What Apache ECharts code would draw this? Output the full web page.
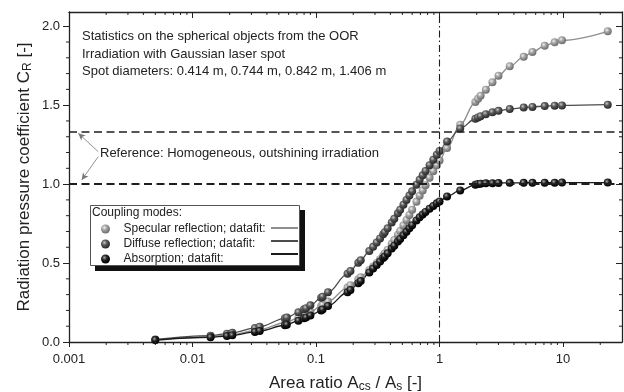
<!DOCTYPE html>
<html>
<head>
<meta charset="utf-8">
<script src="https://cdn.jsdelivr.net/npm/echarts@6/dist/echarts.min.js"></script>
<style>
html,body{margin:0;padding:0;background:#fff;}
#chart{width:624px;height:392px;}
</style>
</head>
<body>
<div id="chart"></div>
<script>
// ---- data ----
const areaRatio = [0.005, 0.014, 0.019, 0.021, 0.032, 0.035, 0.056, 0.058, 0.072, 0.08, 0.083, 0.09, 0.11, 0.113, 0.125, 0.18, 0.19, 0.22, 0.23, 0.27, 0.29, 0.31, 0.33, 0.35, 0.36, 0.38, 0.41, 0.43, 0.46, 0.48, 0.51, 0.54, 0.57, 0.6, 0.65, 0.69, 0.73, 0.77, 0.83, 0.89, 0.95, 1.0, 1.15, 1.47, 1.95, 2.05, 2.15, 2.37, 2.68, 3.0, 3.7, 4.8, 5.65, 7.1, 8.55, 9.8, 23];
const specular = [0.013, 0.033, 0.043, 0.047, 0.072, 0.079, 0.122, 0.126, 0.154, 0.170, 0.176, 0.190, 0.228, 0.234, 0.256, 0.345, 0.360, 0.398, 0.410, 0.456, 0.478, 0.500, 0.524, 0.548, 0.560, 0.585, 0.622, 0.646, 0.680, 0.703, 0.738, 0.772, 0.805, 0.838, 0.888, 0.926, 0.960, 0.993, 1.040, 1.082, 1.120, 1.150, 1.228, 1.376, 1.520, 1.540, 1.560, 1.598, 1.645, 1.687, 1.746, 1.806, 1.837, 1.876, 1.898, 1.911, 1.968];
const diffuse = [0.016, 0.040, 0.053, 0.058, 0.088, 0.097, 0.150, 0.155, 0.188, 0.207, 0.214, 0.232, 0.280, 0.287, 0.315, 0.432, 0.450, 0.502, 0.518, 0.576, 0.603, 0.630, 0.656, 0.682, 0.695, 0.720, 0.757, 0.781, 0.816, 0.838, 0.870, 0.900, 0.928, 0.955, 0.996, 1.027, 1.056, 1.083, 1.120, 1.155, 1.186, 1.210, 1.270, 1.352, 1.414, 1.422, 1.430, 1.443, 1.455, 1.464, 1.475, 1.485, 1.489, 1.494, 1.497, 1.498, 1.503];
const absorption = [0.012, 0.030, 0.038, 0.042, 0.064, 0.070, 0.106, 0.110, 0.135, 0.150, 0.155, 0.168, 0.200, 0.206, 0.228, 0.315, 0.330, 0.372, 0.386, 0.440, 0.465, 0.488, 0.510, 0.532, 0.542, 0.562, 0.592, 0.610, 0.636, 0.652, 0.676, 0.698, 0.720, 0.740, 0.770, 0.790, 0.808, 0.824, 0.844, 0.862, 0.878, 0.890, 0.922, 0.960, 0.996, 1.000, 1.003, 1.005, 1.006, 1.007, 1.008, 1.008, 1.009, 1.009, 1.009, 1.010, 1.010];

const seriesNames = ['Specular reflection; datafit:', 'Diffuse reflection; datafit:', 'Absorption; datafit:'];
const fitNames = ['Specular fit', 'Diffuse fit', 'Absorption fit'];

const xMajorTicks = [0.001, 0.01, 0.1, 1, 10];
const xTickLabels = ['0.001', '0.01', '0.1', '1', '10'];
const xMinorTicks = [0.002,0.003,0.004,0.005,0.006,0.007,0.008,0.009,
                     0.02,0.03,0.04,0.05,0.06,0.07,0.08,0.09,
                     0.2,0.3,0.4,0.5,0.6,0.7,0.8,0.9,
                     2,3,4,5,6,7,8,9,20];
const yMinorTicks = [0.1,0.2,0.3,0.4,0.6,0.7,0.8,0.9,1.1,1.2,1.3,1.4,1.6,1.7,1.8,1.9];
const referenceLevels = [1.0, 1.333];
const referenceAreaRatio = 1;
const arrowStart = [[0.001726, 1.205], [0.001726, 1.174]];
const arrowEnd = [[0.00119, 1.322], [0.001267, 1.026]];

const X_MIN = 0.001, X_MAX = 30, Y_MIN = 0, Y_MAX = 2.09;
const FONT = '"Liberation Sans", Arial, sans-serif';

function sphere(base, hi, edge) {
  return {type:'radial', x:0.38, y:0.35, r:0.62,
    colorStops:[{offset:0,color:hi},{offset:0.45,color:base},{offset:1,color:edge}]};
}
const markerColors = [
  sphere('#a3a3a3', '#f0f0f0', '#707070'),
  sphere('#5a5a5a', '#c8c8c8', '#2c2c2c'),
  sphere('#232323', '#a8a8a8', '#000000')
];
const lineColors = ['#8e8e8e', '#4c4c4c', '#1a1a1a'];
const yValues = [specular, diffuse, absorption];

const pair = arr => areaRatio.map((x, i) => [x, arr[i]]);

const series = [];
yValues.forEach((arr, i) => {
  const s = {
    name: fitNames[i], type: 'line', data: pair(arr), showSymbol: false, symbol: 'none',
    smooth: 0.35, smoothMonotone: 'x', color: lineColors[i],
    lineStyle: {color: lineColors[i], width: 1.3}, z: 2, silent: true, animation: false
  };
  if (i === 2) {
    s.markLine = {
      silent: true, symbol: 'none', animation: false,
      label: {show: false},
      data: [
        {yAxis: referenceLevels[0], lineStyle: {color: '#1e1e1e', width: 1.8, type: [8, 4.5]}},
        {yAxis: referenceLevels[1], lineStyle: {color: '#1e1e1e', width: 1.6, type: [8, 4.5]}},
        {xAxis: referenceAreaRatio, lineStyle: {color: '#1e1e1e', width: 1.1, type: [7, 3, 1.5, 3]}},
        [{coord: arrowStart[0], symbol: 'none'}, {coord: arrowEnd[0], symbol: 'arrow', symbolSize: [5, 7], lineStyle: {color:'#777', width: 0.8, type:'solid'}}],
        [{coord: arrowStart[1], symbol: 'none'}, {coord: arrowEnd[1], symbol: 'arrow', symbolSize: [5, 7], lineStyle: {color:'#777', width: 0.8, type:'solid'}}]
      ]
    };
  }
  series.push(s);
});
yValues.forEach((arr, i) => {
  series.push({
    name: seriesNames[i], type: 'scatter', data: pair(arr), symbol: 'circle', symbolSize: 8,
    itemStyle: {color: markerColors[i], opacity: 1}, z: 3, silent: true, animation: false
  });
});
// minor ticks (log x axis: 2..9 per decade; y axis: every 0.1)
series.push({
  type: 'custom', silent: true, animation: false, z: 5,
  data: xMinorTicks.map(v => [v, Y_MIN]),
  renderItem: function (params, api) {
    const v = api.value(0);
    const b = api.coord([v, Y_MIN]);
    const t = api.coord([v, Y_MAX]);
    return {type: 'group', children: [
      {type: 'line', shape: {x1: b[0], y1: b[1], x2: b[0], y2: b[1] + 3}, style: {stroke: '#222', lineWidth: 1}},
      {type: 'line', shape: {x1: t[0], y1: t[1], x2: t[0], y2: t[1] + 3}, style: {stroke: '#222', lineWidth: 1}}
    ]};
  }
});
series.push({
  type: 'custom', silent: true, animation: false, z: 5,
  data: yMinorTicks.map(v => [X_MIN, v]),
  renderItem: function (params, api) {
    const v = api.value(1);
    const l = api.coord([X_MIN, v]);
    const r = api.coord([X_MAX, v]);
    return {type: 'group', children: [
      {type: 'line', shape: {x1: l[0] - 3, y1: l[1], x2: l[0], y2: l[1]}, style: {stroke: '#222', lineWidth: 1}},
      {type: 'line', shape: {x1: r[0] - 3, y1: r[1], x2: r[0], y2: r[1]}, style: {stroke: '#222', lineWidth: 1}}
    ]};
  }
});

function xLabel(v) {
  for (let i = 0; i < xMajorTicks.length; i++) {
    if (Math.abs(Math.log10(v) - Math.log10(xMajorTicks[i])) < 1e-6) return xTickLabels[i];
  }
  return '';
}

const axisLine = {show: true, onZero: false, lineStyle: {color: '#222', width: 1.3}};
const chart = echarts.init(document.getElementById('chart'), null, {renderer: 'canvas'});
chart.setOption({
  animation: false,
  backgroundColor: '#fff',
  textStyle: {fontFamily: FONT},
  grid: {left: 69, right: 2, top: 12, bottom: 50, containLabel: false, outerBoundsMode: 'none'},
  xAxis: [
    {type: 'log', logBase: 10, min: X_MIN, max: X_MAX, position: 'bottom',
     axisLine: axisLine, axisTick: {show: true, inside: false, length: 5, lineStyle: {color: '#222', width: 1}},
     axisLabel: {show: true, formatter: xLabel, fontSize: 13, color: '#222', margin: 11, fontFamily: FONT, showMaxLabel: false},
     splitLine: {show: false},
     name: '{n|Area ratio A}{s|cs}{n| / A}{s|s}{n| [-]}', nameLocation: 'middle', nameGap: 31, nameMoveOverlap: false,
     nameTextStyle: {rich: {n: {fontSize: 17, color: '#222', fontFamily: FONT}, s: {fontSize: 12, color: '#222', fontFamily: FONT, padding: [8, 0, 0, 0]}}}},
    {type: 'log', logBase: 10, min: X_MIN, max: X_MAX, position: 'top',
     axisLine: axisLine, axisTick: {show: true, inside: true, length: 6, lineStyle: {color: '#222', width: 1}},
     axisLabel: {show: false}, splitLine: {show: false}}
  ],
  yAxis: [
    {type: 'value', min: Y_MIN, max: Y_MAX, interval: 0.5, position: 'left',
     axisLine: axisLine, axisTick: {show: true, inside: false, length: 6, lineStyle: {color: '#222', width: 1}},
     axisLabel: {formatter: v => v.toFixed(1), fontSize: 13, color: '#222', margin: 9, fontFamily: FONT, showMaxLabel: false},
     splitLine: {show: false},
     name: '{n|Radiation pressure coefficient C}{s|R}{n| [-]}', nameLocation: 'middle', nameGap: 35, nameRotate: 90, nameMoveOverlap: false,
     nameTextStyle: {rich: {n: {fontSize: 17, color: '#222', fontFamily: FONT}, s: {fontSize: 12, color: '#222', fontFamily: FONT, padding: [8, 0, 0, 0]}}}},
    {type: 'value', min: Y_MIN, max: Y_MAX, interval: 0.5, position: 'right',
     axisLine: axisLine, axisTick: {show: true, inside: true, length: 6, lineStyle: {color: '#222', width: 1}},
     axisLabel: {show: false}, splitLine: {show: false}}
  ],
  legend: [
    {data: seriesNames, orient: 'vertical', left: 90, top: 205, icon: 'circle',
     itemWidth: 26, itemHeight: 9, itemGap: 3, padding: [18, 0, 0, 11],
     textStyle: {fontSize: 12, lineHeight: 10, color: '#222', fontFamily: FONT},
     selectedMode: false, z: 4},
    {data: fitNames, orient: 'vertical', left: 271, top: 227, icon: 'rect',
     itemWidth: 27, itemHeight: 2, itemGap: 11, padding: 0,
     formatter: () => '', textStyle: {fontSize: 2, lineHeight: 2},
     selectedMode: false, z: 6}
  ],
  graphic: [
    {type: 'rect', z: 3, silent: true, shape: {x: 95, y: 210, width: 210, height: 61}, style: {fill: '#111'}},
    {type: 'rect', z: 3, silent: true, shape: {x: 90.5, y: 205.5, width: 209, height: 60}, style: {fill: '#fff', stroke: '#555', lineWidth: 1}},
    {type: 'text', left: 82, top: 28, z: 100, silent: true,
     style: {text: 'Statistics on the spherical objects from the OOR\nIrradiation with Gaussian laser spot\nSpot diameters: 0.414 m, 0.744 m, 0.842 m, 1.406 m',
             fontSize: 13, lineHeight: 17.3, fontFamily: FONT, fill: '#222'}},
    {type: 'text', left: 100, top: 147, z: 100, silent: true,
     style: {text: 'Reference: Homogeneous, outshining irradiation', fontSize: 13, fontFamily: FONT, fill: '#222'}},
    {type: 'text', left: 92, top: 207, z: 100, silent: true,
     style: {text: 'Coupling modes:', fontSize: 12, fontFamily: FONT, fill: '#222'}}
  ],
  series: series
});
</script>
</body>
</html>
